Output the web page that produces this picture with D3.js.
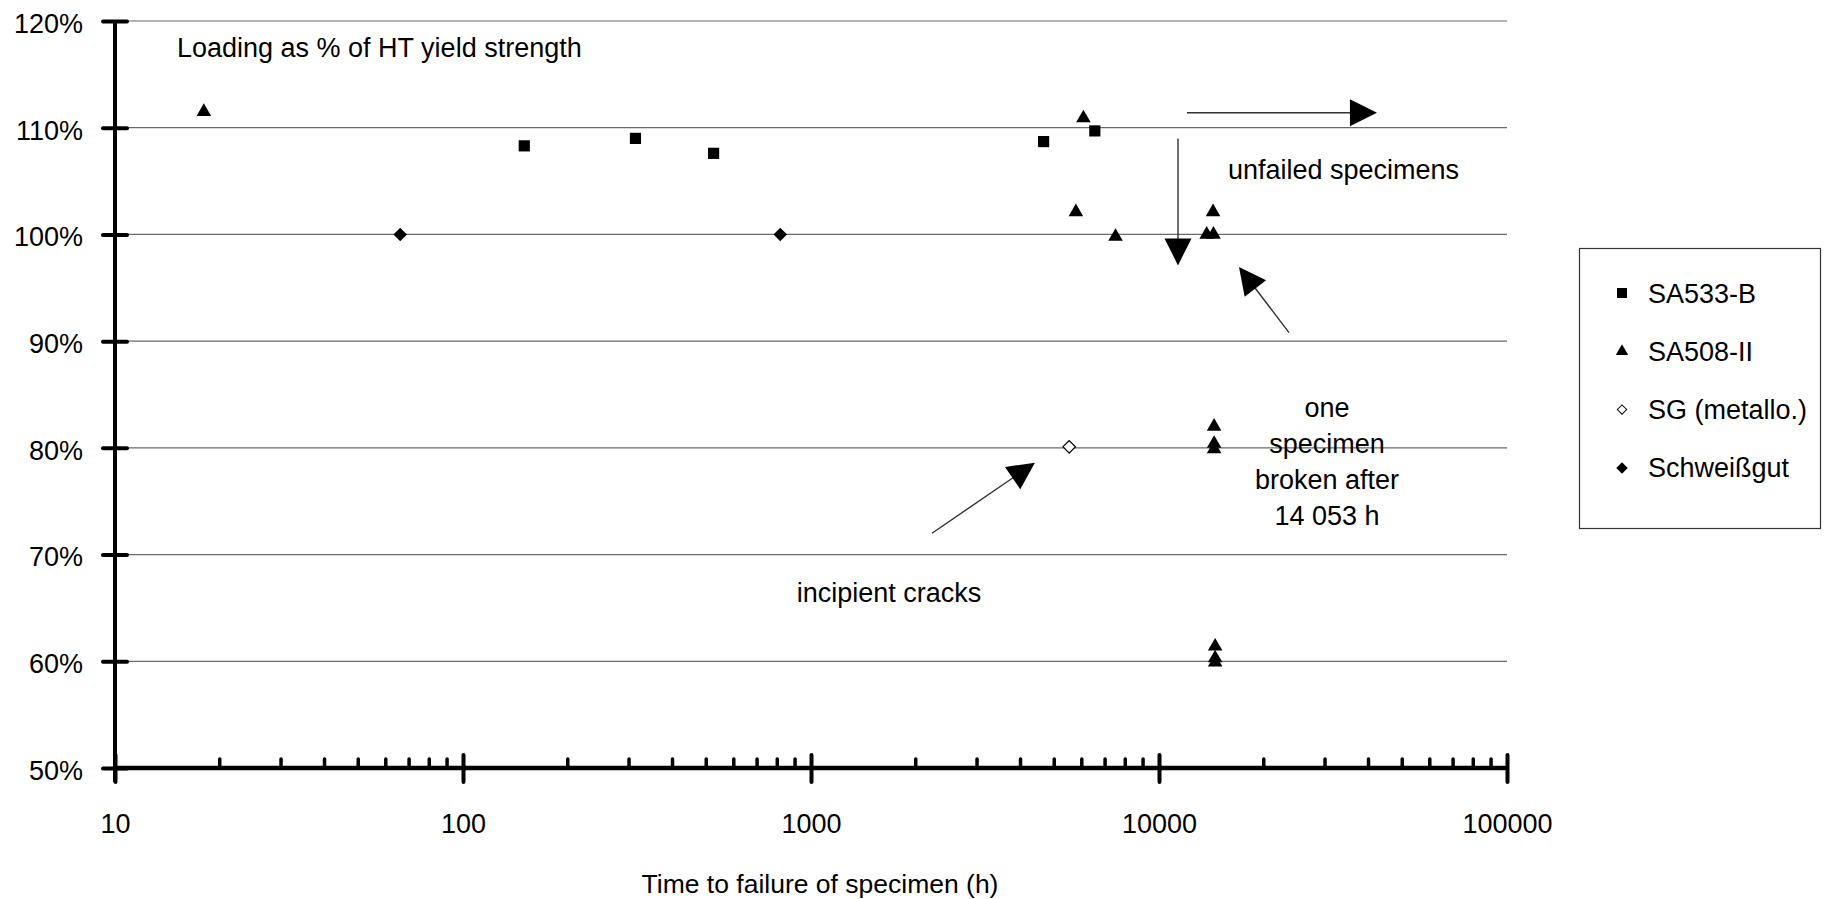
<!DOCTYPE html>
<html><head><meta charset="utf-8">
<script src="https://cdn.jsdelivr.net/npm/d3@7"></script>
<style>
html,body{margin:0;padding:0;background:#fff;}
svg{display:block;font-family:"Liberation Sans",Arial,Helvetica,sans-serif;}
</style></head><body>
<svg id="chart" width="1832" height="899"></svg>
<script>
// ---------- data ----------
const xMajorTicks = [10, 100, 1000, 10000, 100000];
const xTickLabels = ["10", "100", "1000", "10000", "100000"];
const yTicks = [50, 60, 70, 80, 90, 100, 110, 120];
const yTickLabels = ["50%", "60%", "70%", "80%", "90%", "100%", "110%", "120%"];

const seriesNames = ["SA533-B", "SA508-II", "SG (metallo.)", "Schweißgut"];

const sa533bHours = [150, 313, 525, 4660, 6540];
const sa533bLoad  = [108.3, 109.0, 107.6, 108.7, 109.7];

const sa508Hours = [18, 6065, 5770, 7500, 13710, 14340, 14300, 14400, 14400, 14400, 14500, 14500, 14500];
const sa508Load  = [111.5, 110.9, 102.1, 99.8, 100.0, 100.0, 102.1, 82.0, 80.4, 79.9, 61.4, 60.3, 59.9];

const sgHours = [5520];
const sgLoad  = [80.1];

const schweissHours = [66, 816];
const schweissLoad  = [100, 100];

// annotations (data units)
const noteLines  = [["Loading as % of HT yield strength"], ["unfailed specimens"], ["one", "specimen", "broken after", "14 053 h"], ["incipient cracks"]];
const noteHours  = [15.07, 15780, 30390, 1675];
const noteLoad   = [116.6, 105.2, 82.9, 65.6];
const noteAnchor = ["start", "start", "middle", "middle"];

const arrowTailHours = [12030, 11340, 23640, 2227];
const arrowTailLoad  = [111.4, 109.0, 90.8, 72.0];
const arrowTipHours  = [42300, 11340, 16980, 4400];
const arrowTipLoad   = [111.4, 97.1, 96.95, 78.6];

// ---------- chart ----------
const svg = d3.select("#chart");
const FONT = 27;
const x = d3.scaleLog().domain([10, 100000]).range([115, 1507]);
const y = d3.scaleLinear().domain([50, 120]).range([768, 21]);

// gridlines
svg.append("g").selectAll("line").data(yTicks.filter(d => d > 50)).join("line")
  .attr("x1", x(10)).attr("x2", x(100000))
  .attr("y1", d => y(d)).attr("y2", d => y(d))
  .attr("stroke", "#6a6a6a").attr("stroke-width", 1.2);

// y axis
const yAxis = svg.append("g").attr("transform", `translate(${x(10)},0)`)
  .call(d3.axisLeft(y).tickValues(yTicks).tickSize(12).tickPadding(20)
    .tickFormat((d, i) => yTickLabels[i]));
yAxis.select(".domain").remove();
yAxis.selectAll(".tick line").attr("x1", 12).attr("stroke", "#000")
  .attr("stroke-width", 4).attr("stroke-linecap", "round");
yAxis.selectAll(".tick text").attr("font-size", FONT).attr("fill", "#000")
  .attr("font-family", "Liberation Sans, Arial, sans-serif").attr("dy", "0.42em");

// x axis
const xAxis = svg.append("g").attr("transform", `translate(0,${y(50)})`)
  .call(d3.axisBottom(x).tickValues(xMajorTicks).tickSize(14)
    .tickFormat((d, i) => xTickLabels[i]));
xAxis.select(".domain").remove();
xAxis.selectAll(".tick line").attr("y1", -13).attr("stroke", "#000")
  .attr("stroke-width", 4).attr("stroke-linecap", "round");
xAxis.selectAll(".tick text").attr("font-size", FONT).attr("fill", "#000")
  .attr("font-family", "Liberation Sans, Arial, sans-serif")
  .attr("y", 65).attr("dy", 0);

// minor x ticks
const minor = x.ticks().filter(d => !xMajorTicks.includes(d));
svg.append("g").selectAll("line").data(minor).join("line")
  .attr("x1", d => x(d)).attr("x2", d => x(d))
  .attr("y1", y(50)).attr("y2", y(50) - 9)
  .attr("stroke", "#000").attr("stroke-width", 3.5).attr("stroke-linecap", "round");

// axis lines
svg.append("line").attr("x1", x(10)).attr("x2", x(10)).attr("y1", y(120)).attr("y2", y(50) + 14)
  .attr("stroke", "#000").attr("stroke-width", 4);
svg.append("line").attr("x1", x(10)).attr("x2", x(100000)).attr("y1", y(50)).attr("y2", y(50))
  .attr("stroke", "#000").attr("stroke-width", 4.5);

// axis title
svg.append("text").attr("x", 820).attr("y", 893).attr("text-anchor", "middle")
  .attr("font-size", 26.5).text("Time to failure of specimen (h)");

// symbols
const symSquare = d3.symbol().type(d3.symbolSquare).size(125)();
const symTri = d3.symbol().type(d3.symbolTriangle).size(92)();
const symDia = d3.symbol().type(d3.symbolSquare).size(92)();
const symDiaHollow = d3.symbol().type(d3.symbolSquare).size(78)();

function drawSeries(hours, load, path, rot, fill, stroke) {
  svg.append("g").selectAll("path").data(hours.map((h, i) => [h, load[i]])).join("path")
    .attr("d", path)
    .attr("transform", d => `translate(${x(d[0])},${y(d[1])}) rotate(${rot})`)
    .attr("fill", fill).attr("stroke", stroke).attr("stroke-width", stroke === "none" ? 0 : 1.2);
}
drawSeries(sa533bHours, sa533bLoad, symSquare, 0, "#000", "none");
drawSeries(sa508Hours, sa508Load, symTri, 0, "#000", "none");
drawSeries(sgHours, sgLoad, symDiaHollow, 45, "#fff", "#000");
drawSeries(schweissHours, schweissLoad, symDia, 45, "#000", "none");

// annotation texts
noteLines.forEach((lines, i) => {
  const t = svg.append("text").attr("font-size", FONT).attr("text-anchor", noteAnchor[i])
    .attr("x", x(noteHours[i])).attr("y", y(noteLoad[i]));
  lines.forEach((ln, j) => {
    t.append("tspan").attr("x", x(noteHours[i])).attr("dy", j === 0 ? 0 : 36).text(ln);
  });
});

// arrows
const HEAD_L = 27, HEAD_W = 13.5;
arrowTailHours.forEach((h, i) => {
  const x0 = x(h), y0 = y(arrowTailLoad[i]);
  const x1 = x(arrowTipHours[i]), y1 = y(arrowTipLoad[i]);
  const len = Math.hypot(x1 - x0, y1 - y0);
  const ux = (x1 - x0) / len, uy = (y1 - y0) / len;
  const bx = x1 - ux * HEAD_L, by = y1 - uy * HEAD_L;
  svg.append("line").attr("x1", x0).attr("y1", y0).attr("x2", bx + ux * 4).attr("y2", by + uy * 4)
    .attr("stroke", "#333").attr("stroke-width", 1.4);
  const pts = [[x1, y1], [bx - uy * HEAD_W, by + ux * HEAD_W], [bx + uy * HEAD_W, by - ux * HEAD_W]];
  svg.append("path").attr("d", d3.line()(pts) + "Z").attr("fill", "#000");
});

// legend
const lg = svg.append("g");
lg.append("rect").attr("x", 1579.5).attr("y", 248.5).attr("width", 241).attr("height", 280)
  .attr("fill", "#fff").attr("stroke", "#333").attr("stroke-width", 1.2);
const legendPaths = [symSquare, symTri, symDiaHollow, symDia];
const legendRot = [0, 0, 45, 45];
const legendFill = ["#000", "#000", "#fff", "#000"];
const legendStroke = ["none", "none", "#000", "none"];
const legendScale = [0.9, 0.85, 0.75, 0.85];
seriesNames.forEach((name, i) => {
  const cy = 293 + i * 58.3;
  lg.append("path").attr("d", legendPaths[i])
    .attr("transform", `translate(1622,${cy}) rotate(${legendRot[i]}) scale(${legendScale[i]})`)
    .attr("fill", legendFill[i]).attr("stroke", legendStroke[i]).attr("stroke-width", legendStroke[i] === "none" ? 0 : 1.3);
  lg.append("text").attr("x", 1648).attr("y", cy + 9.5).attr("font-size", FONT).text(name);
});
</script>
</body></html>
